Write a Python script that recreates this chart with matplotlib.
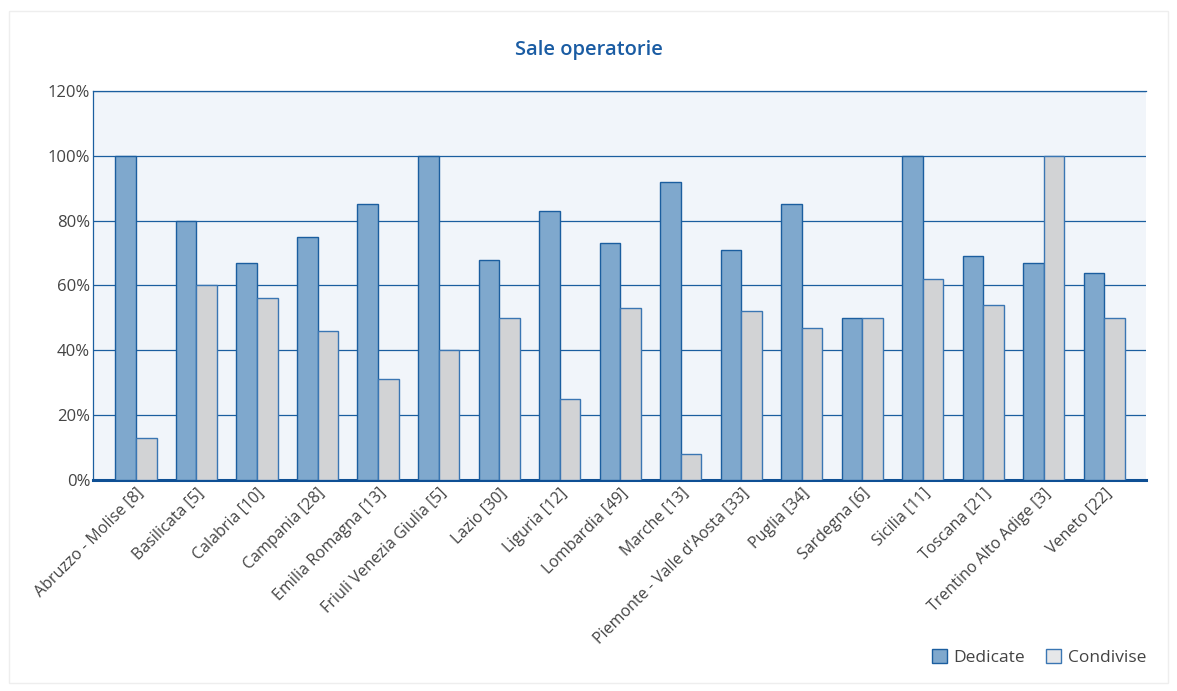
import matplotlib
matplotlib.use("Agg")
import matplotlib.pyplot as plt
import numpy as np
from matplotlib.patches import Rectangle

regions = [
    "Abruzzo - Molise [8]", "Basilicata [5]", "Calabria [10]", "Campania [28]",
    "Emilia Romagna [13]", "Friuli Venezia Giulia [5]", "Lazio [30]", "Liguria [12]",
    "Lombardia [49]", "Marche [13]", "Piemonte - Valle d'Aosta [33]", "Puglia [34]",
    "Sardegna [6]", "Sicilia [11]", "Toscana [21]", "Trentino Alto Adige [3]", "Veneto [22]",
]
dedicate = [100, 80, 67, 75, 85, 100, 68, 83, 73, 92, 71, 85, 50, 100, 69, 67, 64]
condivise = [13, 60, 56, 46, 31, 40, 50, 25, 53, 8, 52, 47, 50, 62, 54, 100, 50]
y_ticks = [0, 20, 40, 60, 80, 100, 120]

plt.rcParams["font.family"] = ["Open Sans", "DejaVu Sans"]

blue = "#1B5E9F"
fill_ded = "#7FA8CD"
fill_con = "#D2D3D5"
text_col = "#444444"

fig = plt.figure(figsize=(11.77, 6.91), dpi=100)
fig.patch.set_facecolor("white")
fig.add_artist(Rectangle((0.008, 0.012), 0.984, 0.972, transform=fig.transFigure,
                         facecolor="none", edgecolor="#EEEEEE", lw=1.0))

ax = fig.add_axes([0.079, 0.3054, 0.8947, 0.5629])
ax.set_facecolor("#F1F5FA")

x = np.arange(len(regions))
w = 0.34
ax.bar(x - w / 2, dedicate, width=w, color=fill_ded, edgecolor=blue, linewidth=1.0, zorder=3,
       label="Dedicate")
ax.bar(x + w / 2, condivise, width=w, color=fill_con, edgecolor="#3A76B3", linewidth=1.0,
       zorder=3, label="Condivise")

ax.set_xlim(-0.71, len(regions) - 1 + 0.69)
ax.set_ylim(0, 120)
ax.set_yticks(y_ticks)
ax.set_yticklabels([f"{v}%" for v in y_ticks], fontsize=12, color=text_col)
ax.yaxis.grid(True, color=blue, linewidth=0.9, zorder=1)
ax.set_axisbelow(True)
ax.tick_params(axis="y", length=0, pad=2)
ax.tick_params(axis="x", length=0, pad=4)

ax.set_xticks(x)
ax.set_xticklabels(regions, rotation=45, ha="right", va="top", rotation_mode="anchor",
                   fontsize=11.5, color=text_col)

for side in ["top", "left", "right"]:
    ax.spines[side].set_color(blue)
    ax.spines[side].set_linewidth(0.9)
ax.spines["right"].set_visible(False)
ax.spines["bottom"].set_color("#0E4F94")
ax.spines["bottom"].set_linewidth(2.2)

fig.text(0.5, 0.927, "Sale operatorie", ha="center", va="center", fontsize=14.5,
         color="#1A5CA3", fontweight="semibold")

leg = fig.legend(loc="lower right", bbox_to_anchor=(0.987, 0.013), ncol=2, frameon=False,
                 fontsize=12.5, handlelength=0.85, handleheight=0.85, handletextpad=0.4,
                 columnspacing=1.2, labelcolor=text_col)
leg.legend_handles[1].set_facecolor("#E6E7E9")

fig.savefig("out.png", dpi=100, facecolor="white")
